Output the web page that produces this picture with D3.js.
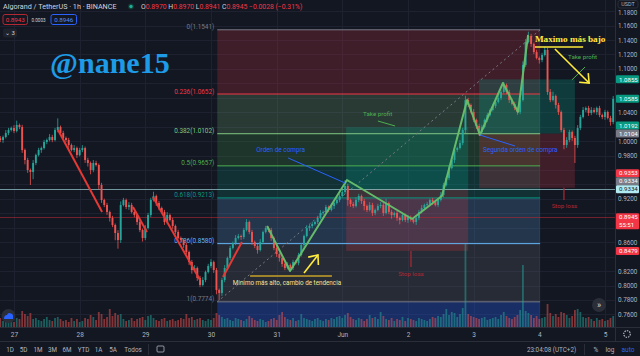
<!DOCTYPE html>
<html><head><meta charset="utf-8">
<script src="https://cdn.jsdelivr.net/npm/d3@7"></script>
<style>html,body{margin:0;padding:0;background:#131722;overflow:hidden}svg{display:block}</style>
</head><body><svg id="c" width="640" height="356"></svg>
<script>
// ---------- DATA ----------
const firstOpen = 1.0040;
const closes = [
1.0015,1.0057,1.0112,1.0153,1.0181,1.0140,1.0223,1.0195,0.9877,0.9738,
0.9600,0.9572,0.9697,0.9807,0.9877,0.9904,0.9987,1.0015,1.0057,1.0015,
1.0153,1.0195,1.0112,1.0043,1.0015,0.9946,0.9877,0.9904,0.9807,0.9877,
0.9904,0.9738,0.9697,0.9600,0.9697,0.9669,0.9392,0.9184,0.9115,0.9018,
0.8935,0.8838,0.8727,0.8630,0.9115,0.9184,0.9087,0.9115,0.9018,0.8976,
0.8879,0.8769,0.8658,0.8796,0.8976,0.9184,0.9239,0.9142,0.9073,0.9018,
0.8879,0.8976,0.8907,0.8824,0.8741,0.8658,0.8630,0.8561,0.8464,0.8325,
0.8214,0.8242,0.8104,0.8007,0.8076,0.8187,0.8270,0.8325,0.8214,0.7938,
0.7896,0.8076,0.8242,0.8381,0.8519,0.8589,0.8658,0.8685,0.8672,0.8769,
0.8879,0.8741,0.8602,0.8547,0.8491,0.8602,0.8741,0.8796,0.8769,0.8658,
0.8519,0.8436,0.8381,0.8298,0.8242,0.8284,0.8242,0.8325,0.8310,0.8422,
0.8561,0.8685,0.8796,0.8824,0.8852,0.8879,0.8935,0.9004,0.9018,0.9087,
0.9046,0.9101,0.9142,0.9184,0.9239,0.9295,0.9378,0.9184,0.9129,0.9101,
0.9184,0.9239,0.9170,0.9101,0.9046,0.9115,0.9004,0.9046,0.9101,0.9115,
0.9004,0.9142,0.9018,0.8976,0.9004,0.8935,0.8907,0.8976,0.8907,0.8949,
0.8915,0.8879,0.8935,0.9018,0.9073,0.9115,0.9129,0.9184,0.9156,0.9115,
0.9184,0.9253,0.9392,0.9489,0.9627,0.9738,0.9877,0.9904,0.9973,1.0153,
1.0569,1.0500,1.0403,1.0292,1.0209,1.0126,1.0195,1.0292,1.0361,1.0431,
1.0486,1.0541,1.0597,1.0680,1.0777,1.0680,1.0569,1.0514,1.0458,1.0403,
1.0569,1.1054,1.1372,1.1455,1.1345,1.1234,1.1151,1.1123,1.1192,1.1262,
1.0680,1.0569,1.0624,1.0500,1.0403,1.0153,0.9946,1.0015,1.0126,1.0043,
0.9946,1.0181,1.0334,1.0431,1.0458,1.0389,1.0431,1.0403,1.0458,1.0361,
1.0334,1.0403,1.0320,1.0264,1.0585];
const wickUp = [
.003,.002,.004,.003,.002,.004,.006,.002,.003,.002,
.003,.002,.004,.002,.003,.002,.003,.002,.004,.003,
.003,.012,.002,.003,.002,.003,.002,.004,.002,.003,
.004,.002,.003,.002,.004,.003,.002,.003,.002,.003,
.002,.003,.002,.004,.005,.003,.002,.004,.003,.002,
.002,.003,.002,.004,.003,.003,.006,.002,.003,.002,
.003,.004,.002,.003,.002,.003,.002,.002,.003,.002,
.003,.004,.002,.003,.004,.002,.003,.004,.002,.003,
.002,.003,.004,.002,.003,.002,.004,.003,.002,.003,
.004,.002,.003,.002,.003,.004,.002,.003,.002,.003,
.002,.003,.002,.003,.002,.004,.002,.003,.002,.003,
.003,.002,.004,.002,.003,.002,.003,.004,.002,.003,
.002,.003,.002,.004,.003,.003,.008,.003,.002,.003,
.004,.003,.002,.003,.002,.004,.003,.002,.003,.004,
.003,.006,.002,.003,.002,.003,.002,.003,.002,.003,
.002,.003,.002,.003,.004,.002,.003,.002,.003,.002,
.003,.004,.003,.002,.004,.003,.003,.002,.004,.003,
.006,.003,.002,.004,.002,.003,.003,.002,.003,.002,
.003,.002,.004,.003,.004,.002,.003,.002,.003,.002,
.003,.005,.004,.006,.003,.002,.003,.002,.003,.004,
.003,.004,.006,.002,.003,.002,.003,.004,.003,.002,
.003,.004,.003,.004,.002,.003,.004,.003,.002,.003,
.002,.003,.002,.003,.004];
const wickDown = [
.003,.004,.002,.003,.002,.003,.002,.003,.004,.006,
.004,.018,.010,.003,.002,.004,.002,.003,.002,.003,
.002,.003,.004,.002,.003,.004,.002,.003,.004,.002,
.003,.004,.005,.006,.003,.002,.006,.004,.003,.004,
.005,.003,.010,.012,.004,.002,.003,.004,.002,.003,
.004,.003,.005,.003,.002,.003,.002,.004,.003,.002,
.004,.003,.002,.004,.003,.002,.003,.004,.003,.004,
.005,.003,.004,.003,.002,.003,.002,.003,.004,.006,
.010,.004,.003,.002,.003,.002,.003,.002,.004,.003,
.002,.003,.004,.003,.005,.002,.003,.002,.003,.004,
.003,.004,.005,.004,.003,.002,.004,.003,.002,.003,
.002,.003,.002,.004,.003,.002,.003,.002,.003,.002,
.003,.002,.004,.002,.003,.002,.003,.008,.004,.003,
.002,.003,.004,.006,.003,.002,.004,.003,.002,.003,
.004,.002,.003,.005,.003,.004,.006,.002,.003,.004,
.003,.002,.004,.003,.002,.003,.002,.003,.004,.002,
.003,.002,.003,.002,.003,.002,.004,.003,.002,.003,
.004,.003,.002,.003,.004,.005,.003,.002,.003,.002,
.002,.003,.002,.003,.002,.003,.004,.002,.003,.004,
.003,.002,.003,.002,.004,.003,.002,.005,.003,.002,
.004,.003,.002,.005,.004,.003,.006,.004,.003,.004,
.025,.004,.003,.002,.003,.004,.003,.002,.004,.003,
.003,.004,.002,.005,.003];
const volumes = [
0.9,0.6,1.0,0.7,1.2,0.5,0.9,0.8,1.6,1.3,
1.1,1.4,0.8,0.9,0.7,0.6,0.8,1.0,0.7,0.6,
0.9,1.0,0.8,0.6,0.7,0.5,0.9,0.6,0.8,0.5,
0.6,0.9,0.8,1.2,1.0,0.7,1.5,1.3,0.8,1.0,
1.8,1.1,1.4,1.2,1.3,0.8,0.6,0.7,0.9,0.6,
0.8,0.9,1.0,0.7,1.1,1.2,0.9,0.7,0.6,0.8,
0.9,0.6,0.7,0.8,0.6,0.7,0.9,0.8,1.3,0.9,
1.0,0.7,0.8,0.9,0.7,0.6,0.8,0.7,0.9,1.4,
1.2,1.0,0.8,0.9,0.7,0.6,0.9,0.8,0.7,0.6,
0.8,1.1,0.9,0.7,0.6,0.8,0.7,0.5,0.6,0.8,
0.9,0.7,1.2,1.5,1.0,0.8,0.7,0.9,0.6,0.7,
1.3,0.9,0.8,0.7,0.6,0.8,0.9,0.7,0.6,0.8,
0.7,0.9,0.8,1.0,1.1,0.9,1.2,1.4,1.0,0.8,
0.7,0.9,0.8,0.6,0.8,1.2,0.9,1.0,0.8,1.5,
1.1,0.8,0.7,0.9,0.6,0.8,0.7,1.0,0.6,0.9,
0.8,0.7,0.6,0.9,0.8,0.7,0.6,0.8,1.0,0.9,
1.1,1.0,1.3,1.8,1.2,1.5,1.4,1.0,1.3,1.9,
8.3,1.3,1.1,1.0,0.9,0.8,0.9,1.0,0.7,0.8,
0.9,1.0,0.8,1.2,1.5,1.1,0.9,0.8,1.0,1.2,
1.7,6.2,1.6,1.4,1.2,0.9,1.1,0.8,0.9,1.0,
2.3,1.4,1.1,1.3,1.0,1.5,1.4,1.2,0.9,1.1,
1.7,1.8,1.5,1.0,0.9,1.0,0.8,0.6,0.9,0.7,
0.8,0.6,0.7,0.9,1.1];

const dayLabels = ["27","28","29","30","31","Jun","2","3","4","5"];
const dayIndex  = [5,29,53,77,101,125,149,173,197,221];
const priceTicks = [1.18,1.16,1.14,1.12,1.10,1.08,1.06,1.04,1.02,1.00,0.98,0.96,0.94,0.92,0.90,0.88,0.86,0.84,0.82,0.80,0.78,0.76];

const fibRatios = [0,0.236,0.382,0.5,0.618,0.786,1,1.618];
const fibPrices = [1.1541,1.0652,1.0102,0.9657,0.9213,0.8580,0.7774,0.5446];
const fibColors = ["#787b86","#f23645","#81c784","#4caf50","#089981","#64b5f6","#787b86","#2962ff"];
const fibSpan = [79.3,197.3];

// long positions: [startIdx, endIdx, takeProfit, entry, stopLoss]
const longPositions = [[126.4,171.0,1.0192,0.9334,0.8479],[175.0,210.0,1.0855,1.0104,0.9353]];

// horizontal lines across the chart
const hLines = [[0.9334,"rgba(178,235,242,0.6)"],[0.8945,"rgba(178,40,51,0.6)"]];

// price-axis labels: [value, bg, fg, extra]
const axisLabels = [
 [1.0855,"#089981","#ffffff",""],
 [1.0585,"#089981","#ffffff",""],
 [1.0192,"#089981","#ffffff",""],
 [1.0104,"#787b86","#ffffff",""],
 [0.9353,"#f23645","#ffffff",""],
 [0.9334,"#787b86","#ffffff",""],
 [0.9334,"#b2ebf2","#131722",""],
 [0.8945,"#f23645","#ffffff","55:51"],
 [0.8479,"#f23645","#ffffff",""]
];

const redTrends = [
 [[21.1,1.0153],[37.2,0.9018]],
 [[48.5,0.9087],[53.6,0.8741]],
 [[55.8,0.9226],[73.0,0.8076]],
 [[81.4,0.8118],[88.3,0.8602]]
];
const greenZigzag = [[97.5,0.8824],[105.9,0.8201],[126.7,0.9461],[150.5,0.8921],[161.4,0.9239],[170.6,1.0569],[175.3,1.0084],[183.7,1.0804],[189.2,1.0403],[192.9,1.1469]];

const noteLines = [
 {pts:[[138.0,1.0278],[144.3,1.0209]], c:"#4caf50", w:1},
 {pts:[[208.9,1.0846],[213.7,1.1026]], c:"#4caf50", w:1},
 {pts:[[105.2,0.9766],[126.0,0.9420]], c:"#2962ff", w:1},
 {pts:[[175.3,1.0084],[188.1,0.9932]], c:"#2962ff", w:1},
 {pts:[[150.1,0.8479],[150.1,0.8256]], c:"#b22833", w:1.2},
 {pts:[[206.0,0.9353],[206.0,0.9184]], c:"#b22833", w:1.2},
 {pts:[[91.3,0.8131],[121.2,0.8131]], c:"#c9a227", w:1.5},
 {pts:[[195.4,1.1303],[213.0,1.1303]], c:"#ffeb3b", w:1.5}
];
const arrows = [
 {pts:[[202.7,1.1275],[215.2,1.0804]], c:"#ffeb3b"},
 {pts:[[111.0,0.8173],[116.1,0.8422]], c:"#ffeb3b"}
];
const notes = [
 {t:"@nane15", i:18.2, p:1.0943, c:"#1e9be6", s:30, f:"Liberation Serif", w:"bold", a:"start"},
 {t:"Maximo más bajo", i:195.4, p:1.1379, c:"#ffeb3b", s:9.2, f:"Liberation Serif", w:"bold", a:"start"},
 {t:"Take profit", i:207.5, p:1.1137, c:"#4caf50", s:6.2, f:"Roboto", w:"normal", a:"start"},
 {t:"Take profit", i:132.6, p:1.0341, c:"#4caf50", s:6.2, f:"Roboto", w:"normal", a:"start"},
 {t:"Orden de compra", i:93.5, p:0.9849, c:"#2962ff", s:6.4, f:"Roboto", w:"normal", a:"start"},
 {t:"Segunda orden de compra", i:176.4, p:0.9842, c:"#2962ff", s:6.4, f:"Roboto", w:"normal", a:"start"},
 {t:"Stop loss", i:150.1, p:0.8138, c:"#b22833", s:6.2, f:"Roboto", w:"normal", a:"middle"},
 {t:"Stop loss", i:206.2, p:0.9080, c:"#b22833", s:6.2, f:"Roboto", w:"normal", a:"middle"},
 {t:"Minimo más alto, cambio de tendencia", i:85.0, p:0.8014, c:"#f3e59a", s:6.3, f:"Roboto", w:"normal", a:"start"}
];

// ---------- DRAW ----------
const W=640,H=356, chartR=615, chartB=327;
const svg=d3.select("#c");
const x=d3.scaleLinear().domain([0,224]).range([0.3,613.2]);
const y=d3.scaleLinear().domain([0.76,1.18]).range([314.4,11.1]);
const volH=d3.scaleLinear().domain([0,10]).range([0,100]);

svg.append("rect").attr("width",W).attr("height",H).attr("fill","#131722");
svg.append("defs").append("clipPath").attr("id","clip").append("rect").attr("x",0).attr("y",0).attr("width",chartR).attr("height",chartB);
const g=svg.append("g").attr("clip-path","url(#clip)");

// grid
g.selectAll(".vg").data(dayIndex).join("line").attr("x1",d=>Math.round(x(d))+0.5).attr("x2",d=>Math.round(x(d))+0.5).attr("y1",0).attr("y2",chartB).attr("stroke","#1d2130");
g.selectAll(".hg").data(priceTicks).join("line").attr("x1",0).attr("x2",chartR).attr("y1",d=>Math.round(y(d))+0.5).attr("y2",d=>Math.round(y(d))+0.5).attr("stroke","#1d2130");

// fib bands
const fx0=x(fibSpan[0]), fx1=x(fibSpan[1]);
for(let k=0;k<fibPrices.length-1;k++){
  g.append("rect").attr("x",fx0).attr("width",fx1-fx0)
   .attr("y",y(fibPrices[k])).attr("height",y(fibPrices[k+1])-y(fibPrices[k]))
   .attr("fill",fibColors[k+1]).attr("fill-opacity",k===fibPrices.length-2?0.3:0.2);
}
// long positions
longPositions.forEach(([a,b,tp,en,sl])=>{
  g.append("rect").attr("x",x(a)).attr("width",x(b)-x(a)).attr("y",y(tp)).attr("height",y(en)-y(tp)).attr("fill","#089981").attr("fill-opacity",0.28);
  g.append("rect").attr("x",x(a)).attr("width",x(b)-x(a)).attr("y",y(en)).attr("height",y(sl)-y(en)).attr("fill","#f23645").attr("fill-opacity",0.2);
});

// horizontal lines
hLines.forEach(([v,c])=>g.append("line").attr("x1",0).attr("x2",chartR).attr("y1",Math.round(y(v))+0.5).attr("y2",Math.round(y(v))+0.5).attr("stroke",c));

// fib lines + labels
fibPrices.forEach((p,k)=>{
  if(k===fibPrices.length-1) return;
  g.append("line").attr("x1",fx0).attr("x2",fx1).attr("y1",y(p)).attr("y2",y(p)).attr("stroke",fibColors[k]).attr("stroke-width",1);
  g.append("text").attr("x",fx0-3).attr("y",y(p)-0.5).attr("text-anchor","end")
   .attr("font-family","Roboto").attr("font-size",6.4).attr("fill",fibColors[k])
   .text(`${fibRatios[k]}(${p.toFixed(4)})`);
});
g.append("line").attr("x1",fx0).attr("y1",y(fibPrices[6])).attr("x2",fx1).attr("y2",y(fibPrices[0]))
 .attr("stroke","#787b86").attr("stroke-dasharray","2,3");

// candles
const opens=closes.map((c,i)=>i===0?firstOpen:closes[i-1]);
const highs=closes.map((c,i)=>Math.max(c,opens[i])+wickUp[i]);
const lows=closes.map((c,i)=>Math.min(c,opens[i])-wickDown[i]);
const up=i=>closes[i]>=opens[i];
g.selectAll(".vol").data(volumes).join("rect")
 .attr("x",(d,i)=>x(i)-0.9).attr("width",1.8)
 .attr("y",d=>chartB-volH(d)).attr("height",d=>volH(d))
 .attr("fill",(d,i)=>up(i)?"rgba(38,166,154,0.5)":"rgba(239,83,80,0.5)");
g.selectAll(".wick").data(closes).join("line")
 .attr("x1",(d,i)=>x(i)).attr("x2",(d,i)=>x(i))
 .attr("y1",(d,i)=>y(highs[i])).attr("y2",(d,i)=>y(lows[i]))
 .attr("stroke",(d,i)=>up(i)?"#26a69a":"#ef5350").attr("stroke-width",0.8);
g.selectAll(".body").data(closes).join("rect")
 .attr("x",(d,i)=>x(i)-0.95).attr("width",1.9)
 .attr("y",(d,i)=>y(Math.max(d,opens[i])))
 .attr("height",(d,i)=>Math.max(0.8,Math.abs(y(d)-y(opens[i]))))
 .attr("fill",(d,i)=>up(i)?"#26a69a":"#ef5350");

// drawings
const line=d3.line().x(d=>x(d[0])).y(d=>y(d[1]));
redTrends.forEach(t=>g.append("path").attr("d",line(t)).attr("stroke","#e53935").attr("stroke-width",2).attr("fill","none"));
g.append("path").attr("d",line(greenZigzag)).attr("stroke","#66bb6a").attr("stroke-width",2).attr("fill","none").attr("stroke-linejoin","round");
noteLines.forEach(l=>g.append("path").attr("d",line(l.pts)).attr("stroke",l.c).attr("stroke-width",l.w).attr("fill","none"));
arrows.forEach(a=>{
  const [p0,p1]=a.pts; const X0=x(p0[0]),Y0=y(p0[1]),X1=x(p1[0]),Y1=y(p1[1]);
  const ang=Math.atan2(Y0-Y1,X0-X1), L=10, sp=0.7;
  g.append("path").attr("d",`M${X0},${Y0}L${X1},${Y1}`).attr("stroke",a.c).attr("stroke-width",1.6);
  g.append("path").attr("d",`M${X1+L*Math.cos(ang+sp)},${Y1+L*Math.sin(ang+sp)}L${X1},${Y1}L${X1+L*Math.cos(ang-sp)},${Y1+L*Math.sin(ang-sp)}`)
   .attr("stroke",a.c).attr("stroke-width",1.6).attr("fill","none");
});
notes.forEach(n=>g.append("text").attr("x",x(n.i)).attr("y",y(n.p)).attr("text-anchor",n.a)
 .attr("font-family",n.f).attr("font-weight",n.w).attr("font-size",n.s).attr("fill",n.c).text(n.t));

// ---------- AXES ----------
svg.append("rect").attr("x",chartR).attr("y",0).attr("width",W-chartR).attr("height",H).attr("fill","#131722");
svg.append("line").attr("x1",chartR+0.5).attr("x2",chartR+0.5).attr("y1",0).attr("y2",341).attr("stroke","#2a2e39");
svg.append("line").attr("x1",0).attr("x2",W).attr("y1",chartB+0.5).attr("y2",chartB+0.5).attr("stroke","#2a2e39");
svg.append("line").attr("x1",0).attr("x2",W).attr("y1",341.5).attr("y2",341.5).attr("stroke","#2a2e39");

// axis labels with stacking (computed first so overlapped ticks can be hidden)
const LH=8;
const labs=axisLabels.map((l,k)=>({v:l[0],bg:l[1],fg:l[2],ex:l[3],ty:y(l[0]),k}));
const order=labs.slice().sort((a,b)=>b.ty-a.ty||b.k-a.k);
let prev=null;
order.forEach(l=>{ l.py = prev===null? l.ty : Math.min(l.ty, prev - LH); prev=l.py; });
const blocked=t=>labs.some(l=>{const top=l.py-LH/2-3, bot=l.py-LH/2+(l.ex?2*LH:LH)+3; const ty=y(t); return ty>top && ty<bot;});

const ya=svg.append("g").attr("transform",`translate(${chartR},0)`)
 .call(d3.axisRight(y).tickValues(priceTicks.filter(t=>!blocked(t))).tickFormat(d3.format(".4f")).tickSize(0).tickPadding(3));
ya.select(".domain").remove();
ya.selectAll("text").attr("font-family","Roboto").attr("font-size",6.3).attr("fill","#b2b5be");
ya.selectAll(".tick").filter(d=>d===1.18).select("text").attr("dy","0.55em");

const xa=svg.append("g").attr("transform",`translate(0,${chartB})`)
 .call(d3.axisBottom(x).tickValues(dayIndex).tickFormat((d,i)=>dayLabels[i]).tickSize(0).tickPadding(5));
xa.select(".domain").remove();
xa.selectAll("text").attr("font-family","Roboto").attr("font-size",6.5).attr("fill","#b2b5be");

labs.forEach(l=>{
  const h = l.ex? LH*2 : LH;
  svg.append("rect").attr("x",chartR+1).attr("y",l.py-LH/2).attr("width",W-chartR-2).attr("height",h).attr("rx",1).attr("fill",l.bg);
  svg.append("text").attr("x",chartR+4).attr("y",l.py+2.2).attr("font-family","Roboto").attr("font-size",6.1).attr("fill",l.fg).text(l.v.toFixed(4));
  if(l.ex) svg.append("text").attr("x",chartR+4).attr("y",l.py+2.2+LH).attr("font-family","Roboto").attr("font-size",6.1).attr("fill",l.fg).text(l.ex);
});
// USDT tag
svg.append("rect").attr("x",chartR+3).attr("y",0.5).attr("width",20).attr("height",7.5).attr("rx",2).attr("fill","#131722").attr("stroke","#2a2e39");
svg.append("text").attr("x",chartR+13).attr("y",6.3).attr("text-anchor","middle").attr("font-family","Roboto").attr("font-size",5.4).attr("fill","#b2b5be").text("USDT");

// ---------- HEADER ----------
const hf="Roboto";
svg.append("text").attr("x",3).attr("y",9).attr("font-family",hf).attr("font-size",7.2).attr("fill","#d1d4dc").text("Algorand / TetherUS · 1h · BINANCE");
svg.append("circle").attr("cx",131).attr("cy",6.5).attr("r",3).attr("fill","#0f3b33");
svg.append("circle").attr("cx",131).attr("cy",6.5).attr("r",1.7).attr("fill","#22ab94");
const ohlcLabels=["O","H","L","C"], ohlcVals=["0.8970","0.8970","0.8941","0.8945"];
const ht=svg.append("text").attr("x",141).attr("y",9).attr("font-family",hf).attr("font-size",6.8);
ohlcLabels.forEach((l,k)=>{ ht.append("tspan").attr("fill","#d1d4dc").text((k?" ":"")+l); ht.append("tspan").attr("fill","#f23645").text(ohlcVals[k]); });
ht.append("tspan").attr("fill","#f23645").text(" −0.0028 (−0.31%)");
svg.append("rect").attr("x",3).attr("y",14.5).attr("width",24.5).attr("height",10).attr("rx",2).attr("fill","none").attr("stroke","#b22833");
svg.append("text").attr("x",15.2).attr("y",21.7).attr("text-anchor","middle").attr("font-family",hf).attr("font-size",6.2).attr("fill","#f23645").text("0.8943");
svg.append("text").attr("x",38.5).attr("y",21.5).attr("text-anchor","middle").attr("font-family",hf).attr("font-size",4.6).attr("fill","#d1d4dc").text("0.0003");
svg.append("rect").attr("x",51).attr("y",14.5).attr("width",25.5).attr("height",10).attr("rx",2).attr("fill","none").attr("stroke","#2962ff");
svg.append("text").attr("x",63.7).attr("y",21.7).attr("text-anchor","middle").attr("font-family",hf).attr("font-size",6.2).attr("fill","#5b8def").text("0.8946");
svg.append("rect").attr("x",3).attr("y",28.5).attr("width",14).attr("height",9).attr("rx",2).attr("fill","#1e222d");
svg.append("text").attr("x",10).attr("y",35.3).attr("text-anchor","middle").attr("font-family",hf).attr("font-size",6).attr("fill","#d1d4dc").text("⌄ 3");

// ---------- ICONS / TOOLBAR ----------
svg.append("circle").attr("cx",8.5).attr("cy",316).attr("r",7).attr("fill","#2a2e39");
svg.append("path").attr("d","M4,319 Q4,315 7,315 Q8,312 11,313.5 Q13.5,314 13,317 L13,319 Z").attr("fill","#2962ff");
svg.append("circle").attr("cx",599).attr("cy",305).attr("r",7).attr("fill","#2a2e39");
svg.append("text").attr("x",599).attr("y",308).attr("text-anchor","middle").attr("font-family",hf).attr("font-size",9).attr("fill","#d1d4dc").text("»");
svg.append("circle").attr("cx",627).attr("cy",334).attr("r",3.3).attr("fill","none").attr("stroke","#b2b5be").attr("stroke-width",1.2).attr("stroke-dasharray","1.5,1");
const tb=["1D","5D","1M","3M","6M","YTD","1A","5A","Todos"], tbx=[10,23.5,38,52.5,67,83.5,98.5,113,133];
tb.forEach((t,k)=>svg.append("text").attr("x",tbx[k]).attr("y",352).attr("text-anchor","middle").attr("font-family",hf).attr("font-size",6.3).attr("fill","#b2b5be").text(t));
svg.append("line").attr("x1",148.5).attr("x2",148.5).attr("y1",344).attr("y2",355).attr("stroke","#2a2e39");
svg.append("rect").attr("x",157).attr("y",346).attr("width",7).attr("height",6).attr("rx",1).attr("fill","none").attr("stroke","#b2b5be").attr("stroke-width",0.8);
svg.append("text").attr("x",527).attr("y",352).attr("font-family",hf).attr("font-size",6.3).attr("fill","#b2b5be").text("23:04:08 (UTC+2)");
svg.append("line").attr("x1",584.5).attr("x2",584.5).attr("y1",344).attr("y2",355).attr("stroke","#2a2e39");
svg.append("text").attr("x",596).attr("y",352).attr("text-anchor","middle").attr("font-family",hf).attr("font-size",6.5).attr("fill","#b2b5be").text("%");
svg.append("text").attr("x",610).attr("y",352).attr("text-anchor","middle").attr("font-family",hf).attr("font-size",6.5).attr("fill","#b2b5be").text("log");
svg.append("text").attr("x",628).attr("y",352).attr("text-anchor","middle").attr("font-family",hf).attr("font-size",6.5).attr("fill","#2962ff").text("auto");
</script></body></html>
